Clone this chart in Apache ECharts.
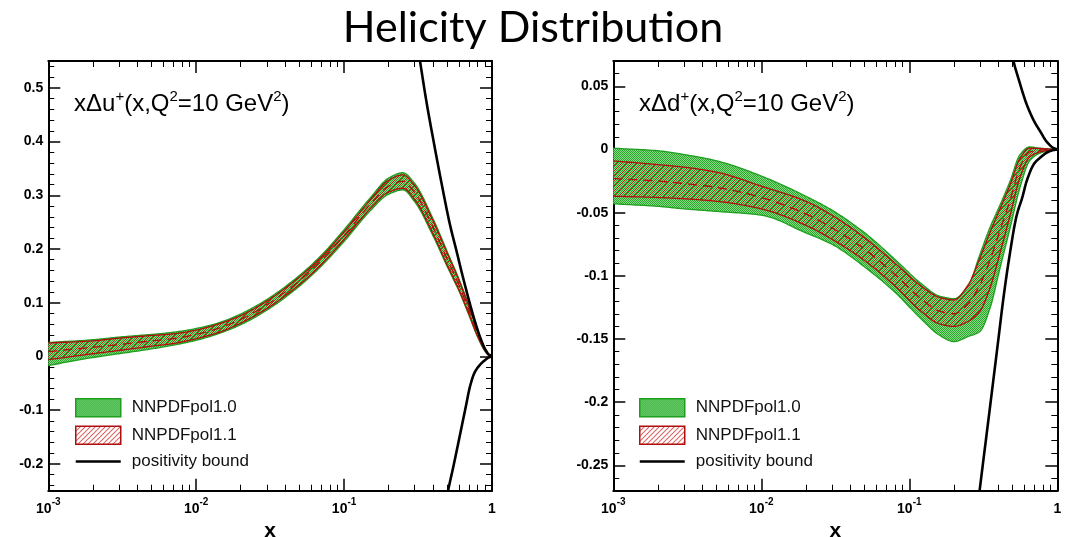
<!DOCTYPE html>
<html>
<head>
<meta charset="utf-8">
<script src="https://cdn.jsdelivr.net/npm/echarts@6/dist/echarts.min.js"></script>
<style>
  html, body { margin: 0; padding: 0; background: #fff; }
  #chart { width: 1066px; height: 537px; }
</style>
</head>
<body>
<div id="chart"></div>
<script>
// ---------- x Δu+ panel ----------
const xU = [0.001, 0.002, 0.003, 0.005, 0.007, 0.01, 0.014, 0.02, 0.03, 0.05, 0.07, 0.1, 0.15, 0.2, 0.25, 0.3, 0.4, 0.5, 0.6, 0.7, 0.8, 0.9, 0.95, 1.0];
const uPol10Lo = [-0.017, -0.002, 0.005, 0.014, 0.021, 0.030, 0.042, 0.059, 0.086, 0.131, 0.168, 0.214, 0.271, 0.302, 0.310, 0.288, 0.224, 0.166, 0.121, 0.076, 0.036, 0.009, 0.002, 0];
const uPol10Hi = [0.026, 0.031, 0.036, 0.041, 0.045, 0.052, 0.062, 0.079, 0.106, 0.151, 0.188, 0.236, 0.295, 0.332, 0.342, 0.322, 0.256, 0.194, 0.143, 0.094, 0.048, 0.015, 0.004, 0];
const uPol11Lo = [-0.006, 0.005, 0.011, 0.019, 0.024, 0.033, 0.044, 0.062, 0.089, 0.134, 0.171, 0.218, 0.275, 0.306, 0.313, 0.292, 0.228, 0.169, 0.123, 0.078, 0.037, 0.010, 0.002, 0];
const uPol11Hi = [0.025, 0.029, 0.034, 0.039, 0.042, 0.049, 0.060, 0.076, 0.103, 0.148, 0.185, 0.232, 0.291, 0.328, 0.338, 0.318, 0.252, 0.191, 0.141, 0.092, 0.047, 0.014, 0.004, 0];
const uPol11Mid = [0.009, 0.017, 0.022, 0.029, 0.033, 0.041, 0.052, 0.069, 0.096, 0.141, 0.178, 0.225, 0.283, 0.317, 0.326, 0.305, 0.240, 0.180, 0.132, 0.085, 0.042, 0.012, 0.003, 0];
const xUBoundUp = [0.29, 0.326, 0.36, 0.40, 0.469, 0.52, 0.577, 0.63, 0.69, 0.75, 0.83, 0.90, 0.95, 1.0];
const uBoundUp  = [0.64, 0.55, 0.475, 0.405, 0.305, 0.245, 0.195, 0.152, 0.110, 0.074, 0.036, 0.013, 0.004, 0];
const xUBoundLo = [0.48, 0.50, 0.55, 0.6075, 0.66, 0.71, 0.76, 0.83, 0.90, 0.95, 1.0];
const uBoundLo  = [-0.28, -0.255, -0.203, -0.146, -0.098, -0.056, -0.031, -0.0155, -0.0065, -0.002, 0];

// ---------- x Δd+ panel ----------
const xD = [0.001, 0.002, 0.003, 0.005, 0.01, 0.02, 0.03, 0.05, 0.08, 0.12, 0.16, 0.2, 0.25, 0.3, 0.35, 0.41, 0.48, 0.56, 0.65, 0.76, 0.88, 1.0];
const dPol10Lo = [-0.043, -0.045, -0.047, -0.049, -0.052, -0.066, -0.075, -0.093, -0.113, -0.134, -0.147, -0.152, -0.148, -0.144, -0.126, -0.094, -0.062, -0.030, -0.009, -0.003, -0.001, 0];
const dPol10Hi = [0.001, -0.001, -0.004, -0.009, -0.021, -0.037, -0.048, -0.066, -0.087, -0.106, -0.116, -0.118, -0.108, -0.083, -0.062, -0.044, -0.025, -0.004, 0.002, 0.001, 0.0005, 0];
const dPol11Lo = [-0.037, -0.038, -0.039, -0.041, -0.047, -0.060, -0.071, -0.088, -0.108, -0.128, -0.138, -0.140, -0.136, -0.128, -0.110, -0.082, -0.052, -0.022, -0.006, -0.002, -0.0006, 0];
const dPol11Hi = [-0.009, -0.012, -0.014, -0.018, -0.029, -0.041, -0.052, -0.070, -0.090, -0.108, -0.117, -0.119, -0.107, -0.086, -0.066, -0.047, -0.028, -0.007, 0.001, 0.0008, 0.0003, 0];
const dPol11Mid = [-0.023, -0.025, -0.027, -0.030, -0.038, -0.051, -0.062, -0.079, -0.099, -0.118, -0.128, -0.130, -0.122, -0.107, -0.088, -0.064, -0.040, -0.014, -0.002, -0.0006, -0.0001, 0];
const xDBoundUp = [0.46, 0.504, 0.55, 0.621, 0.70, 0.764, 0.85, 0.94, 1.0];
const dBoundUp  = [0.095, 0.0706, 0.055, 0.0357, 0.022, 0.0146, 0.006, 0.0013, 0];
const xDBoundLo = [0.28, 0.30, 0.35, 0.40, 0.431, 0.47, 0.532, 0.58, 0.621, 0.70, 0.764, 0.85, 0.93, 1.0];
const dBoundLo  = [-0.297, -0.268, -0.205, -0.150, -0.119, -0.088, -0.052, -0.038, -0.025, -0.011, -0.0066, -0.0025, -0.0006, 0];

// ---------- axes ----------
const X_MIN = 0.001, X_MAX = 1;
const xMajorTicks = [0.001, 0.01, 0.1, 1];
const xMinorTicks = [0.002, 0.003, 0.004, 0.005, 0.006, 0.007, 0.008, 0.009,
                     0.02, 0.03, 0.04, 0.05, 0.06, 0.07, 0.08, 0.09,
                     0.2, 0.3, 0.4, 0.5, 0.6, 0.7, 0.8, 0.9];
const yURange = [-0.25, 0.55];
const yUMajor = [-0.2, -0.1, 0, 0.1, 0.2, 0.3, 0.4, 0.5];
const yDRange = [-0.27, 0.07];
const yDMajor = [-0.25, -0.2, -0.15, -0.1, -0.05, 0, 0.05];

function minorSteps(lo, hi, step, majors) {
  const out = [];
  const n0 = Math.ceil(lo / step - 1e-9), n1 = Math.floor(hi / step + 1e-9);
  for (let k = n0; k <= n1; k++) {
    const v = Math.round(k * step * 1000) / 1000;
    if (!majors.some(m => Math.abs(m - v) < 1e-9)) out.push(v);
  }
  return out;
}
const yUMinor = minorSteps(yURange[0], yURange[1], 0.02, yUMajor);
const yDMinor = minorSteps(yDRange[0], yDRange[1], 0.01, yDMajor);

const FONT = '"Liberation Sans", Helvetica, Arial, sans-serif';
const BLACK = '#000';

// fill textures
function stipple() {
  const c = document.createElement('canvas');
  c.width = 2; c.height = 2;
  const g = c.getContext('2d');
  g.fillStyle = '#8ad88a'; g.fillRect(0, 0, 2, 2);
  g.fillStyle = '#27a827'; g.fillRect(0, 0, 1, 1); g.fillRect(1, 1, 1, 1);
  return { image: c, repeat: 'repeat' };
}
function hatch() {
  const s = 5;
  const c = document.createElement('canvas');
  c.width = s; c.height = s;
  const g = c.getContext('2d');
  g.strokeStyle = '#c81818'; g.lineWidth = 1;
  g.beginPath();
  g.moveTo(0, s); g.lineTo(s, 0);
  g.moveTo(-1, 1); g.lineTo(1, -1);
  g.moveTo(s - 1, s + 1); g.lineTo(s + 1, s - 1);
  g.stroke();
  return { image: c, repeat: 'repeat' };
}
const GREEN_FILL = stipple();
const RED_FILL = hatch();
const GREEN_EDGE = '#1f9f1f';
const RED_EDGE = '#b00d0d';

// monotone cubic through pixel points (x increasing), drawn as a fine polyline
function smoothPath(pts, steps) {
  const n = pts.length;
  if (n < 3) return pts;
  const dx = [], m = [], t = [];
  for (let i = 0; i < n - 1; i++) {
    dx[i] = pts[i + 1][0] - pts[i][0];
    m[i] = (pts[i + 1][1] - pts[i][1]) / dx[i];
  }
  t[0] = m[0]; t[n - 1] = m[n - 2];
  for (let i = 1; i < n - 1; i++) {
    if (m[i - 1] * m[i] <= 0) { t[i] = 0; continue; }
    const w1 = 2 * dx[i] + dx[i - 1], w2 = dx[i] + 2 * dx[i - 1];
    t[i] = (w1 + w2) / (w1 / m[i - 1] + w2 / m[i]);
  }
  const out = [];
  for (let i = 0; i < n - 1; i++) {
    const h = dx[i];
    for (let k = 0; k < steps; k++) {
      const s = k / steps, s2 = s * s, s3 = s2 * s;
      const h00 = 2 * s3 - 3 * s2 + 1, h10 = s3 - 2 * s2 + s, h01 = -2 * s3 + 3 * s2, h11 = s3 - s2;
      out.push([pts[i][0] + s * h,
                h00 * pts[i][1] + h10 * h * t[i] + h01 * pts[i + 1][1] + h11 * h * t[i + 1]]);
    }
  }
  out.push(pts[n - 1]);
  return out;
}

function xLabel(v) {
  const e = Math.round(Math.log10(v));
  return e === 0 ? '{b|1}' : '{b|10}{s|' + e + '}';
}

function xAxesFor(g) {
  const base = { gridIndex: g, type: 'log', logBase: 10, min: X_MIN, max: X_MAX, splitLine: { show: false } };
  const majorTick = { show: true, inside: true, length: 12, customValues: xMajorTicks, lineStyle: { color: BLACK, width: 1.5 } };
  const minorTick = { show: true, inside: true, length: 6, customValues: xMinorTicks, lineStyle: { color: BLACK, width: 1 } };
  const line = { show: true, onZero: false, lineStyle: { color: BLACK, width: 2 } };
  return [
    Object.assign({}, base, {
      position: 'bottom', axisLine: line, axisTick: majorTick,
      axisLabel: {
        show: true, customValues: xMajorTicks, formatter: xLabel, margin: 7,
        rich: {
          b: { fontFamily: FONT, fontWeight: 'bold', fontSize: 14, color: BLACK, lineHeight: 18, verticalAlign: 'bottom' },
          s: { fontFamily: FONT, fontWeight: 'bold', fontSize: 10, color: BLACK, verticalAlign: 'top' }
        }
      },
      name: 'x', nameLocation: 'middle', nameGap: 24,
      nameTextStyle: { fontFamily: FONT, fontWeight: 'bold', fontSize: 21, color: BLACK }
    }),
    Object.assign({}, base, { position: 'bottom', axisLine: { show: false, onZero: false }, axisTick: minorTick, axisLabel: { show: false } }),
    Object.assign({}, base, { position: 'top', axisLine: line, axisTick: majorTick, axisLabel: { show: false } }),
    Object.assign({}, base, { position: 'top', axisLine: { show: false, onZero: false }, axisTick: minorTick, axisLabel: { show: false } })
  ];
}

function yAxesFor(g, range, majors, minors) {
  const base = { gridIndex: g, type: 'value', min: range[0], max: range[1], splitLine: { show: false } };
  const majorTick = { show: true, inside: true, length: 12, customValues: majors, lineStyle: { color: BLACK, width: 1.5 } };
  const minorTick = { show: true, inside: true, length: 6, customValues: minors, lineStyle: { color: BLACK, width: 1 } };
  const line = { show: true, onZero: false, lineStyle: { color: BLACK, width: 2 } };
  return [
    Object.assign({}, base, {
      position: 'left', axisLine: line, axisTick: majorTick,
      axisLabel: { show: true, customValues: majors, formatter: v => String(v), margin: 5,
                   fontFamily: FONT, fontWeight: 'bold', fontSize: 14, color: BLACK }
    }),
    Object.assign({}, base, { position: 'left', axisLine: { show: false, onZero: false }, axisTick: minorTick, axisLabel: { show: false } }),
    Object.assign({}, base, { position: 'right', axisLine: line, axisTick: majorTick, axisLabel: { show: false } }),
    Object.assign({}, base, { position: 'right', axisLine: { show: false, onZero: false }, axisTick: minorTick, axisLabel: { show: false } })
  ];
}

// filled uncertainty band between lo and hi, with its two edges
function bandSeries(g, name, xs, lo, hi, fill, edge) {
  return {
    type: 'custom', name: name, xAxisIndex: 4 * g, yAxisIndex: 4 * g, clip: true, silent: true,
    data: xs.map((x, i) => [x, lo[i], hi[i]]),
    encode: { x: 0, y: [1, 2] },
    itemStyle: { color: fill, borderColor: edge },
    renderItem: function (params, api) {
      if (params.dataIndex !== 0) return null;
      const top = smoothPath(xs.map((x, i) => api.coord([x, hi[i]])), 16);
      const bot = smoothPath(xs.map((x, i) => api.coord([x, lo[i]])), 16);
      return {
        type: 'group',
        children: [
          { type: 'polygon', shape: { points: top.concat(bot.slice().reverse()) }, style: { fill: fill, stroke: null } },
          { type: 'polyline', shape: { points: top }, style: { stroke: edge, lineWidth: 1.3, fill: null } },
          { type: 'polyline', shape: { points: bot }, style: { stroke: edge, lineWidth: 1.3, fill: null } }
        ]
      };
    }
  };
}

function curveSeries(g, name, xs, ys, stroke, width, dash) {
  return {
    type: 'custom', name: name, xAxisIndex: 4 * g, yAxisIndex: 4 * g, clip: true, silent: true,
    data: xs.map((x, i) => [x, ys[i]]),
    encode: { x: 0, y: 1 },
    itemStyle: { color: stroke },
    renderItem: function (params, api) {
      if (params.dataIndex !== 0) return null;
      const pts = smoothPath(xs.map((x, i) => api.coord([x, ys[i]])), 16);
      return { type: 'polyline', shape: { points: pts },
               style: { stroke: stroke, lineWidth: width, lineDash: dash || null, fill: null } };
    }
  };
}

function panelSeries(g, xs, p10lo, p10hi, p11lo, p11hi, p11mid, xbu, bu, xbl, bl) {
  return [
    bandSeries(g, 'NNPDFpol1.0', xs, p10lo, p10hi, GREEN_FILL, GREEN_EDGE),
    bandSeries(g, 'NNPDFpol1.1', xs, p11lo, p11hi, RED_FILL, RED_EDGE),
    curveSeries(g, 'NNPDFpol1.1 central', xs, p11mid, RED_EDGE, 1.3, [9, 6]),
    curveSeries(g, 'positivity bound', xbu, bu, BLACK, 2.6),
    curveSeries(g, 'positivity bound', xbl, bl, BLACK, 2.6)
  ];
}

const legendItems = [
  { name: 'NNPDFpol1.0', icon: 'rect', itemStyle: { color: GREEN_FILL, borderColor: GREEN_EDGE, borderWidth: 1.5 } },
  { name: 'NNPDFpol1.1', icon: 'rect', itemStyle: { color: RED_FILL, borderColor: RED_EDGE, borderWidth: 1.5 } },
  { name: 'positivity bound', icon: 'path://M0,0H100V6H0Z', itemStyle: { color: BLACK, borderWidth: 0 } }
];
function legendAt(left) {
  return {
    left: left, top: 398, orient: 'vertical', padding: 0, itemWidth: 45, itemHeight: 18, itemGap: 8,
    selectedMode: false, data: legendItems,
    textStyle: { fontFamily: FONT, fontSize: 17, color: '#111', padding: [0, 0, 0, 6] }
  };
}

const richLabel = {
  n: { fontFamily: FONT, fontSize: 24, fontWeight: 'normal', color: BLACK, lineHeight: 30 },
  s: { fontFamily: FONT, fontSize: 15, fontWeight: 'normal', color: BLACK, verticalAlign: 'top' }
};

const chart = echarts.init(document.getElementById('chart'), null, { renderer: 'canvas' });
chart.setOption({
  animation: false,
  backgroundColor: '#fff',
  title: [
    { text: 'Helicity Distribution', left: 'center', top: 2,
      textStyle: { fontFamily: 'Lato, "Open Sans", sans-serif', fontSize: 43, fontWeight: 'normal', color: BLACK } },
    { text: '{n|xΔu}{s|+}{n|(x,Q}{s|2}{n|=10 GeV}{s|2}{n|)}', left: 74, top: 89, padding: 0,
      textStyle: { fontWeight: 'normal', rich: richLabel } },
    { text: '{n|xΔd}{s|+}{n|(x,Q}{s|2}{n|=10 GeV}{s|2}{n|)}', left: 639, top: 89, padding: 0,
      textStyle: { fontWeight: 'normal', rich: richLabel } }
  ],
  legend: [legendAt(75), legendAt(639)],
  grid: [
    { left: 48.3, top: 61, width: 443.7, height: 429.7, containLabel: false, outerBoundsMode: 'none' },
    { left: 613.3, top: 61, width: 444, height: 429.7, containLabel: false, outerBoundsMode: 'none' }
  ],
  xAxis: [].concat(xAxesFor(0), xAxesFor(1)),
  yAxis: [].concat(yAxesFor(0, yURange, yUMajor, yUMinor), yAxesFor(1, yDRange, yDMajor, yDMinor)),
  series: [].concat(
    panelSeries(0, xU, uPol10Lo, uPol10Hi, uPol11Lo, uPol11Hi, uPol11Mid, xUBoundUp, uBoundUp, xUBoundLo, uBoundLo),
    panelSeries(1, xD, dPol10Lo, dPol10Hi, dPol11Lo, dPol11Hi, dPol11Mid, xDBoundUp, dBoundUp, xDBoundLo, dBoundLo)
  )
});
</script>
</body>
</html>
